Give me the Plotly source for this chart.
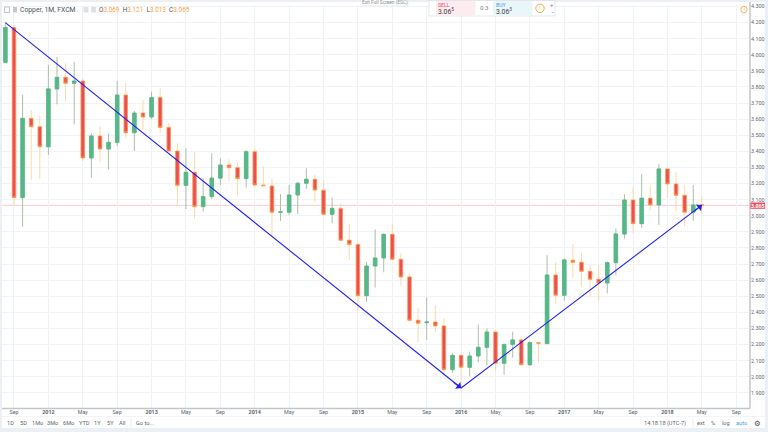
import plotly.graph_objects as go

# Monthly candles Aug 2011 .. May 2018
months = []
_names = ["Jan","Feb","Mar","Apr","May","Jun","Jul","Aug","Sep","Oct","Nov","Dec"]
for _y in range(2011, 2019):
    for _m in range(12):
        if (_y == 2011 and _m < 7):
            continue
        if (_y == 2018 and _m > 4):
            continue
        months.append(f"{_names[_m]} {_y}")

opens = [3.953,4.169,3.113,3.605,3.553,3.429,3.788,3.86,3.823,3.837,3.359,3.496,3.415,3.456,3.75,3.516,3.638,3.614,3.734,3.549,
         3.402,3.189,3.27,3.057,3.119,3.234,3.315,3.299,3.231,3.398,3.191,3.185,3.022,3.022,3.129,3.202,3.227,3.158,3.009,3.046,
         2.848,2.821,2.504,2.688,2.738,2.885,2.73,2.62,2.351,2.336,2.34,2.316,2.044,2.133,2.059,2.129,2.183,2.278,2.084,2.2,
         2.229,2.075,2.212,2.206,2.632,2.506,2.724,2.711,2.655,2.605,2.583,2.709,2.887,3.098,2.951,3.109,3.067,3.291,3.198,3.127,
         3.022,3.069]
highs = [4.2,4.185,3.75,3.657,3.622,3.937,3.988,3.947,3.955,3.854,3.512,3.554,3.512,3.837,3.823,3.651,3.719,3.771,3.792,3.574,
         3.45,3.419,3.394,3.233,3.388,3.357,3.351,3.326,3.409,3.419,3.305,3.229,3.135,3.191,3.208,3.295,3.253,3.222,3.113,3.077,
         2.949,2.837,2.713,2.916,2.889,2.953,2.767,2.643,2.429,2.494,2.44,2.363,2.146,2.133,2.156,2.326,2.301,2.291,2.208,2.28,
         2.245,2.218,2.216,2.755,2.711,2.736,2.823,2.767,2.694,2.694,2.717,2.92,3.133,3.177,3.258,3.185,3.322,3.299,3.27,3.191,
         3.191,3.121]
lows = [3.953,3.063,2.933,3.222,3.226,3.378,3.692,3.713,3.568,3.34,3.237,3.332,3.289,3.433,3.481,3.402,3.533,3.599,3.512,3.402,
        3.061,3.042,2.984,3.026,3.104,3.191,3.216,3.125,3.175,3.19,3.181,2.881,2.968,3.003,3.011,3.167,3.086,3.009,2.953,2.848,
        2.726,2.409,2.465,2.554,2.649,2.73,2.566,2.34,2.212,2.229,2.28,2.005,2.026,1.928,2.001,2.088,2.071,2.038,2.013,2.119,
        2.075,2.067,2.088,2.206,2.452,2.471,2.612,2.56,2.498,2.471,2.518,2.63,2.858,2.891,2.926,3.032,2.943,3.109,3.026,2.937,
        2.968,3.013]
closes = [4.169,3.113,3.605,3.553,3.429,3.788,3.86,3.823,3.837,3.359,3.496,3.415,3.456,3.75,3.516,3.638,3.614,3.734,3.549,3.402,
          3.189,3.27,3.057,3.119,3.234,3.315,3.299,3.231,3.398,3.191,3.187,3.022,3.024,3.129,3.202,3.227,3.16,3.009,3.046,2.848,
          2.821,2.504,2.688,2.738,2.885,2.73,2.62,2.351,2.332,2.34,2.316,2.044,2.133,2.059,2.129,2.183,2.278,2.084,2.2,2.229,
          2.075,2.212,2.208,2.632,2.506,2.726,2.711,2.655,2.605,2.583,2.709,2.887,3.098,2.951,3.109,3.067,3.291,3.198,3.127,3.022,
          3.067,3.065]

future_months = ["Jun 2018","Jul 2018","Aug 2018","Sep 2018","Oct 2018","Nov 2018"]
tick_months = ["Sep 2011","Jan 2012","May 2012","Sep 2012","Jan 2013","May 2013","Sep 2013","Jan 2014","May 2014","Sep 2014",
               "Jan 2015","May 2015","Sep 2015","Jan 2016","May 2016","Sep 2016","Jan 2017","May 2017","Sep 2017","Jan 2018",
               "May 2018","Sep 2018"]
tick_labels = ["Sep","<b>2012</b>","May","Sep","<b>2013</b>","May","Sep","<b>2014</b>","May","Sep",
               "<b>2015</b>","May","Sep","<b>2016</b>","May","Sep","<b>2017</b>","May","Sep","<b>2018</b>","May","Sep"]
y_ticks = ["1.900","2.000","2.100","2.200","2.300","2.400","2.500","2.600","2.700","2.800","2.900","3.000","3.100",
           "3.200","3.300","3.400","3.500","3.600","3.700","3.800","3.900","4.000","4.100","4.200","4.300"]

trend_months = ["Aug 2011","Jan 2016","May 2018"]
trend_values = [4.2,1.93,3.066]
last_price = 3.065

GREEN, RED, ORANGE = "#53b987", "#eb4d5c", "#ff9f40"
TXT = "#5d6670"

L, R, T, B = 2, 18, 5, 24
W, H = 768, 432
def px(x): return (x - L) / (W - L - R)
def py(y): return 1 - (y - T) / (H - T - B)

fig = go.Figure()
# wicks
fig.add_trace(go.Candlestick(x=months, open=opens, high=highs, low=lows, close=closes, whiskerwidth=0,
    increasing=dict(line=dict(color="#aebdaa", width=1), fillcolor="#aebdaa"),
    decreasing=dict(line=dict(color="#fdd8a8", width=1), fillcolor="#fdd8a8"),
    showlegend=False, hoverinfo="skip"))
# bodies
body_hi = [max(o, c) for o, c in zip(opens, closes)]
body_lo = [min(o, c) for o, c in zip(opens, closes)]
fig.add_trace(go.Candlestick(x=months, open=opens, high=body_hi, low=body_lo, close=closes, whiskerwidth=0,
    increasing=dict(line=dict(color=GREEN, width=0.7), fillcolor=GREEN),
    decreasing=dict(line=dict(color=ORANGE, width=0.7), fillcolor=RED),
    showlegend=False))
# trend line
fig.add_trace(go.Scatter(x=trend_months, y=trend_values, mode="lines", line=dict(color="#2020f5", width=1.1),
                         showlegend=False, hoverinfo="skip"))

def rect(x0, y0, x1, y1, fill, line=None, layer="above", lw=0.6):
    fig.add_shape(type="rect", xref="paper", yref="paper", x0=px(x0), x1=px(x1), y0=py(y0), y1=py(y1),
                  fillcolor=fill, line=dict(color=line or fill, width=lw if line else 0), layer=layer)
def hline(x0, x1, y, color, lw=1, layer="above"):
    fig.add_shape(type="line", xref="paper", yref="paper", x0=px(x0), x1=px(x1), y0=py(y), y1=py(y),
                  line=dict(color=color, width=lw), layer=layer)
def vline(x, y0, y1, color, lw=1, layer="above"):
    fig.add_shape(type="line", xref="paper", yref="paper", x0=px(x), x1=px(x), y0=py(y0), y1=py(y1),
                  line=dict(color=color, width=lw), layer=layer)
def circle(cx, cy, r, line, fill="rgba(0,0,0,0)", lw=1):
    fig.add_shape(type="circle", xref="paper", yref="paper", x0=px(cx-r), x1=px(cx+r), y0=py(cy-r), y1=py(cy+r),
                  line=dict(color=line, width=lw), fillcolor=fill)
def text(x, y, s, size=6, color=TXT, anchor="center", family="Roboto, sans-serif"):
    fig.add_annotation(xref="paper", yref="paper", x=px(x), y=py(y), text=s, showarrow=False, xanchor=anchor,
                       yanchor="middle", font=dict(size=size, color=color, family=family), borderpad=0, borderwidth=0)

# page background panel
rect(2, 2, 765, 428, "white", layer="below")
# price line
fig.add_shape(type="line", xref="paper", yref="y", x0=0, x1=1, y0=last_price, y1=last_price,
              line=dict(color="#f9c9cd", width=1), layer="below")
# axis borders and toolbar divider
hline(2, 750, 408.5, "#c3c6c9", 1.5)
vline(750, 2, 408.5, "#c3c6c9", 1.5)
hline(2, 765, 416.5, "#f2f4f6", 1)
vline(131, 418, 427, "#eceff2", 1)
vline(693, 418, 427, "#eceff2", 1)

# price tag
rect(750.5, 202.5, 765, 208.8, RED)
text(757.8, 205.7, "<b>3.065</b>", 5.2, "white")

# trend arrow heads
for mon, val, ax, ay in [(trend_months[1], trend_values[1], -9, -7), (trend_months[2], trend_values[2], -9, 7)]:
    fig.add_annotation(x=mon, y=val, xref="x", yref="y", ax=ax, ay=ay, text="", showarrow=True,
                       arrowhead=1, arrowsize=1.3, arrowwidth=1.1, arrowcolor="#2020f5")

# legend header
rect(4.5, 7, 9.5, 12.5, "rgba(0,0,0,0)", "#9aa0a6")
rect(13, 7, 17, 12.5, "#c4c8cc")
text(20, 10, "Copper, 1M, FXCM", 6.8, "#4a5560", "left")
rect(83.5, 7, 88.5, 12.5, "#dfe2e5")
rect(91, 7, 96, 12.5, "#dfe2e5")
_v = lambda s: f'<span style="color:#f7a34a">{s}</span>'
text(99, 10, f"O{_v('3.069')}&nbsp;&nbsp;H{_v('3.121')}&nbsp;&nbsp;L{_v('3.013')}&nbsp;&nbsp;C{_v('3.065')}", 6.4, "#4a5560", "left")

# exit full screen hint
rect(361, -1, 408, 5.8, "white", "#e3e6e9")
text(384.5, 2.7, "Exit Full Screen (ESC)", 4.8, "#8a9096")

# sell/buy widget
rect(429, 0.5, 555, 16, "white", "#d5d9dd")
rect(436, 1, 475.5, 15.5, "#fdecef")
rect(493, 1, 532.5, 15.5, "#e9f6fb")
text(438, 5, "SELL", 5.2, "#ef4f66", "left")
text(438, 11, "3.06<sup>5</sup>", 6.8, "#3a4248", "left")
text(484, 8.3, "0.3", 6.2, "#7c848b")
text(495.5, 5, "BUY", 5.2, "#3f9fe0", "left")
text(495.5, 11, "3.06<sup>3</sup>", 6.8, "#3a4248", "left")
circle(540, 8.3, 4.2, "#f5a53f")
text(540, 8.3, "!", 5.5, "#f5a53f")
text(552, 4, "+", 6, "#7c848b")
text(552, 12, "−", 6, "#7c848b")
circle(744, 9.5, 3.2, "#f7b469")
text(744, 9.5, "!", 4.5, "#f7b469")

# bottom toolbar
for label, x in zip(["1D","5D","1Mo","3Mo","6Mo","YTD","1Y","5Y","All"], [10.5,23,37,52,68,84,97.5,110,122]):
    text(x, 423.3, label, 5.6)
text(145, 423.3, "Go to...", 5.6)
text(665, 423.3, "14:18:18 (UTC-7)", 5.6)
text(701, 423.3, "ext", 5.6)
text(713, 423.3, "%", 5.6)
text(726, 423.3, "log", 5.6)
text(741, 423.3, "auto", 5.6, "#3f9fe0")
text(757, 423.3, "⚙", 7.5, "#4a5560", family="DejaVu Sans")

fig.update_layout(
    width=W, height=H, margin=dict(l=L, r=R, t=T, b=B, autoexpand=False),
    paper_bgcolor="#eceff3", plot_bgcolor="rgba(0,0,0,0)", showlegend=False, boxgap=0.42,
    xaxis=dict(type="category", categoryorder="array", categoryarray=months + future_months,
               range=[-0.395, 86.6], rangeslider=dict(visible=False), tickmode="array", tickvals=tick_months,
               ticktext=tick_labels, tickangle=0, showgrid=True, gridcolor="#eef2f7", gridwidth=1, zeroline=False,
               ticks="", tickfont=dict(size=5.4, color=TXT, family="Roboto, sans-serif"), showline=False),
    yaxis=dict(side="right", range=[1.806, 4.3093], tickmode="array", tickvals=[float(t) for t in y_ticks], ticktext=y_ticks,
               showgrid=True, gridcolor="#f0f3f7", gridwidth=1, zeroline=False, ticks="", showline=False,
               tickfont=dict(size=5.4, color=TXT, family="Roboto, sans-serif")),
    hovermode=False,
)
fig.write_html("out.html", config={"displayModeBar": False},
               post_script="document.body.style.margin='0';document.documentElement.style.overflow='hidden';")
